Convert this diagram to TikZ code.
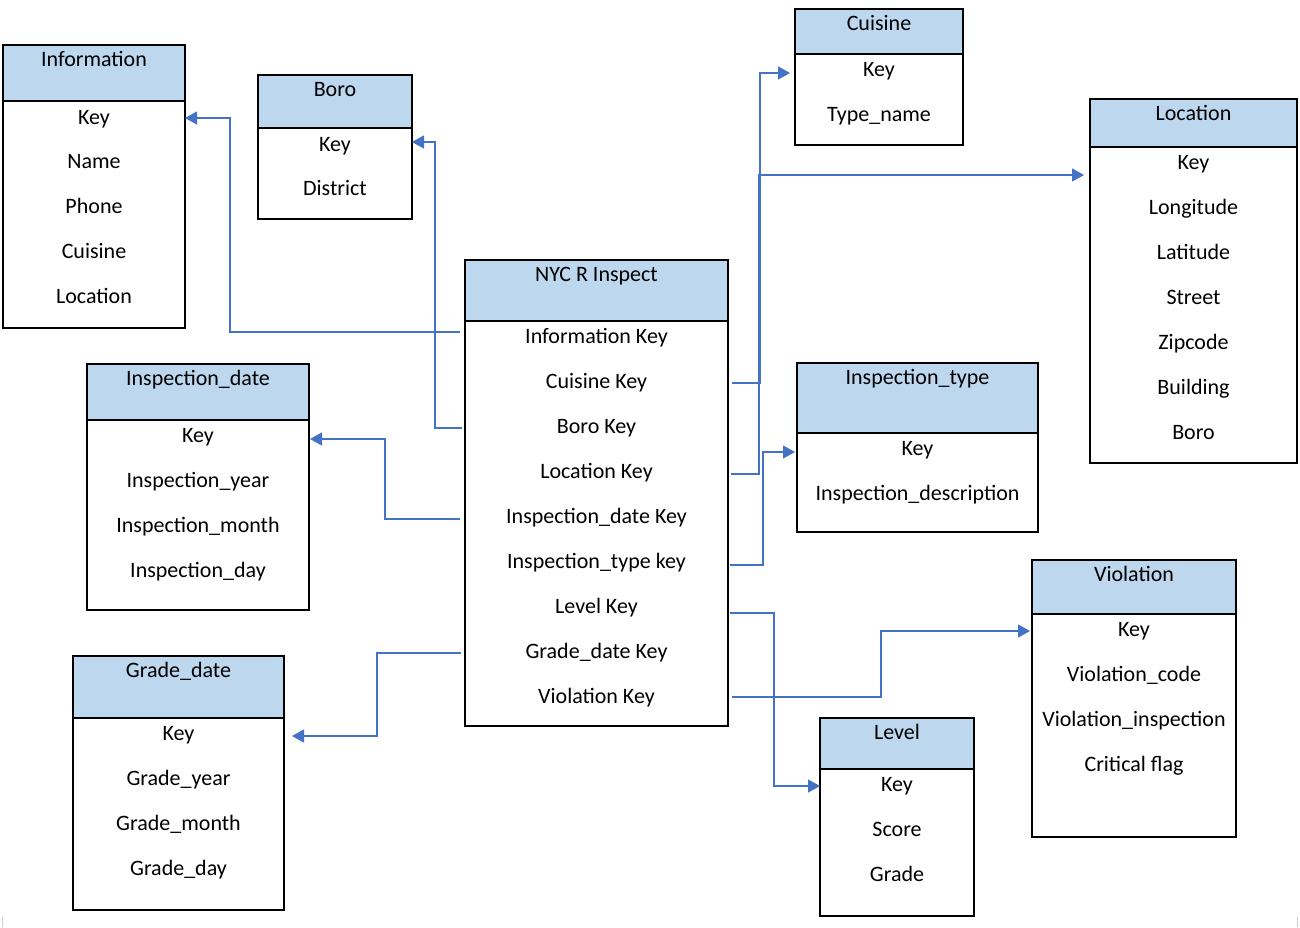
\documentclass[tikz,border=0pt]{standalone}
\usepackage{fontspec}
\setmainfont{Carlito}
\usetikzlibrary{arrows.meta}
\definecolor{hdrblue}{HTML}{BDD7EE}
\definecolor{connblue}{HTML}{4472C4}
\newcommand\erbox[6]{%
  \pgfmathsetmacro\erbw{#4-#2}%
  \pgfmathsetmacro\erhh{#5-#3}%
  \pgfmathsetmacro\erbh{#6-#5}%
  \node[hdrbox, minimum width=\erbw pt, minimum height=\erhh pt] (#1h) at (#2,#3) {};
  \node[bodybox, minimum width=\erbw pt, minimum height=\erbh pt] (#1b) at (#2,#5) {};
}
\begin{document}
\begin{tikzpicture}[x=1pt,y=-1pt,
  hdrbox/.style={draw, fill=hdrblue, line width=1.2pt, anchor=north west, inner sep=0pt, outer sep=0pt},
  bodybox/.style={draw, fill=white, line width=1.2pt, anchor=north west, inner sep=0pt, outer sep=0pt},
  lbl/.style={anchor=base, inner sep=0pt, yshift=-1pt, font=\fontsize{22}{26}\selectfont},
  conn/.style={draw=connblue, line width=1.3pt, -{Triangle[length=12pt,width=13pt]}}]
\useasboundingbox (0,0) rectangle (1300,927);
\fill[white] (0,0) rectangle (1300,927);

% Information
\erbox{info}{3}{45}{185}{101}{328}
\node[lbl] (infot) at (94,65.5) {Information};
\node[lbl] (infok) at (94,123.5) {Key};
\node[lbl] (infon) at (94,167.5) {Name};
\node[lbl] (infop) at (94,212.5) {Phone};
\node[lbl] (infoc) at (94,257.5) {Cuisine};
\node[lbl] (infol) at (94,302.5) {Location};

% Boro
\erbox{boro}{258}{75}{412}{128}{219}
\node[lbl] (borot) at (335,95.5) {Boro};
\node[lbl] (borok) at (335,150) {Key};
\node[lbl] (borod) at (335,194.5) {District};

% Cuisine
\erbox{cuis}{795}{9}{963}{54}{145}
\node[lbl] (cuist) at (879,29.5) {Cuisine};
\node[lbl] (cuisk) at (879,75.5) {Key};
\node[lbl] (cuisn) at (879,120.5) {Type\_name};

% Location
\erbox{loc}{1090}{99}{1297}{147}{463}
\node[lbl] (loct) at (1193.5,119.5) {Location};
\node[lbl] (lock) at (1193.5,168.5) {Key};
\node[lbl] (loclo) at (1193.5,213.5) {Longitude};
\node[lbl] (locla) at (1193.5,258.5) {Latitude};
\node[lbl] (locs) at (1193.5,303.5) {Street};
\node[lbl] (locz) at (1193.5,348.5) {Zipcode};
\node[lbl] (locbu) at (1193.5,393.5) {Building};
\node[lbl] (locbo) at (1193.5,438.5) {Boro};

% NYC R Inspect
\erbox{nyc}{465}{260}{728}{321}{726}
\node[lbl] (nyct) at (596.5,280.5) {NYC R Inspect};
\node[lbl] (nyc1) at (596.5,342.5) {Information Key};
\node[lbl] (nyc2) at (596.5,387.5) {Cuisine Key};
\node[lbl] (nyc3) at (596.5,432.5) {Boro Key};
\node[lbl] (nyc4) at (596.5,477.5) {Location Key};
\node[lbl] (nyc5) at (596.5,522.5) {Inspection\_date Key};
\node[lbl] (nyc6) at (596.5,567.5) {Inspection\_type key};
\node[lbl] (nyc7) at (596.5,612.5) {Level Key};
\node[lbl] (nyc8) at (596.5,657.5) {Grade\_date Key};
\node[lbl] (nyc9) at (596.5,702.5) {Violation Key};

% Inspection_date
\erbox{idate}{87}{364}{309}{420}{610}
\node[lbl] (idatet) at (198,384.5) {Inspection\_date};
\node[lbl] (idatek) at (198,441.5) {Key};
\node[lbl] (idatey) at (198,486.5) {Inspection\_year};
\node[lbl] (idatem) at (198,531.5) {Inspection\_month};
\node[lbl] (idated) at (198,576.5) {Inspection\_day};

% Inspection_type
\erbox{itype}{797}{363}{1038}{433}{532}
\node[lbl] (itypet) at (917.5,383.5) {Inspection\_type};
\node[lbl] (itypek) at (917.5,454.5) {Key};
\node[lbl] (itype1) at (917.5,499.5) {Inspection\_description};

% Violation
\erbox{viol}{1032}{560}{1236}{614}{837}
\node[lbl] (violt) at (1134,580.5) {Violation};
\node[lbl] (violk) at (1134,635.5) {Key};
\node[lbl] (violc) at (1134,680.5) {Violation\_code};
\node[lbl] (violi) at (1134,725.5) {Violation\_inspection};
\node[lbl] (violf) at (1134,770.5) {Critical flag};

% Grade_date
\erbox{gdate}{73}{656}{284}{718}{910}
\node[lbl] (gdatet) at (178.5,676.5) {Grade\_date};
\node[lbl] (gdatek) at (178.5,739.5) {Key};
\node[lbl] (gdatey) at (178.5,784.5) {Grade\_year};
\node[lbl] (gdatem) at (178.5,829.5) {Grade\_month};
\node[lbl] (gdated) at (178.5,874.5) {Grade\_day};

% Level
\erbox{level}{820}{718}{974}{769}{916}
\node[lbl] (levelt) at (897,738.5) {Level};
\node[lbl] (levelk) at (897,790.5) {Key};
\node[lbl] (levels) at (897,835.5) {Score};
\node[lbl] (levelg) at (897,880.5) {Grade};

% connectors
\draw[conn] ([xshift=-5pt]nycb.west |- 0,332) -| (230,118) -- (infob.east |- 0,118);
\draw[conn] ([xshift=-3pt]nycb.west |- 0,428) -| (435,142) -- (borob.east |- 0,142);
\draw[conn] ([xshift=4pt]nycb.east |- 0,383) -| (760,73) -- ([xshift=-5pt]cuisb.west |- 0,73);
\draw[conn] ([xshift=3pt]nycb.east |- 0,474) -| (759,175) -- ([xshift=-6pt]locb.west |- 0,175);
\draw[conn] ([xshift=2pt]nycb.east |- 0,565) -| (763,452) -- ([xshift=-2pt]itypeb.west |- 0,452);
\draw[conn] ([xshift=2pt]nycb.east |- 0,613) -| (774,786) -- (levelb.west |- 0,786);
\draw[conn] ([xshift=4pt]nycb.east |- 0,697) -| (881,631) -- ([xshift=-2pt]violb.west |- 0,631);
\draw[conn] ([xshift=-5pt]nycb.west |- 0,519) -| (385,439) -- ([xshift=1pt]idateb.east |- 0,439);
\draw[conn] ([xshift=-4pt]nycb.west |- 0,653) -| (377,736) -- ([xshift=8pt]gdateb.east |- 0,736);

% page corner marks
\draw[gray!40, line width=0.8pt] (2,917) -- (2,927);
\draw[gray!40, line width=0.8pt] (1297,917) -- (1297,927);
\end{tikzpicture}
\end{document}
